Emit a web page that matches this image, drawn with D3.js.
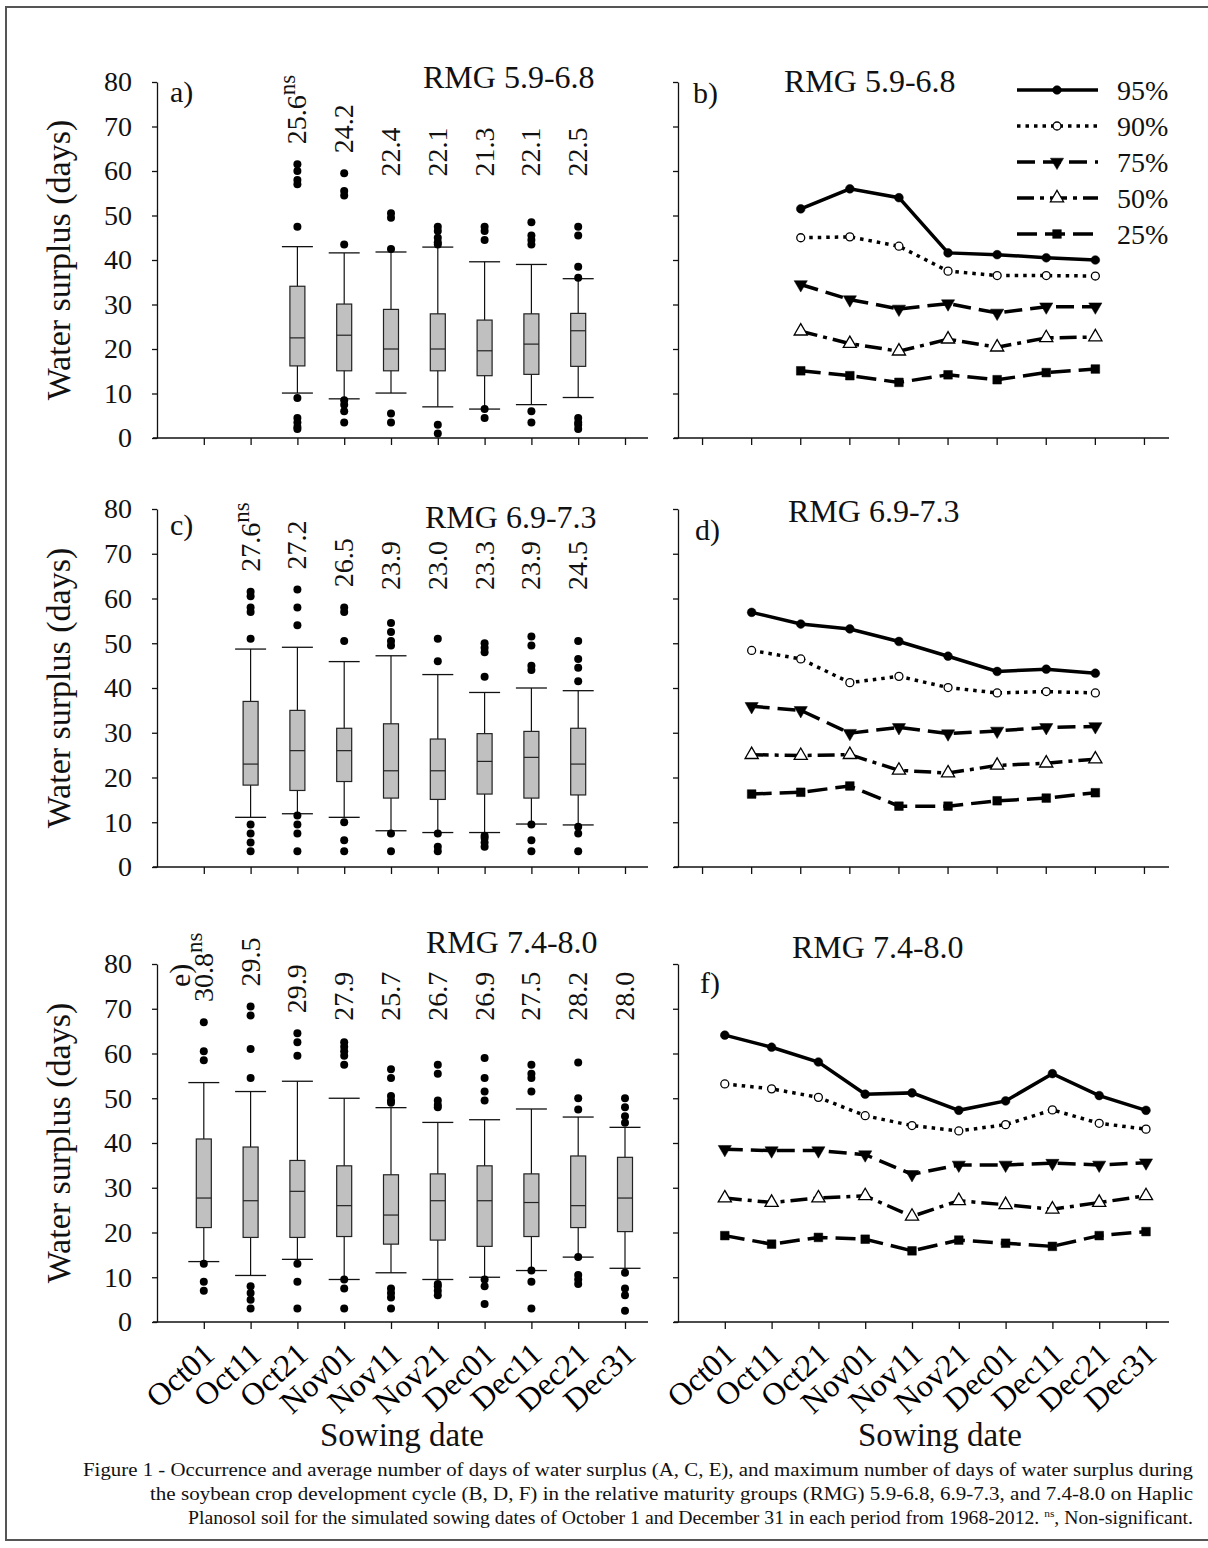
<!DOCTYPE html>
<html>
<head>
<meta charset="utf-8">
<script src="https://cdn.jsdelivr.net/npm/d3@7"></script>
<style>
body { margin: 0; background: #fff; }
svg { display: block; font-family: "Liberation Serif", "Times New Roman", serif; }
</style>
</head>
<body>
<script>
// sowing dates
const dates = ["Oct01","Oct11","Oct21","Nov01","Nov11","Nov21","Dec01","Dec11","Dec21","Dec31"];
const datesA = ["Oct21","Nov01","Nov11","Nov21","Dec01","Dec11","Dec21"];
const datesC = ["Oct11","Oct21","Nov01","Nov11","Nov21","Dec01","Dec11","Dec21"];
const datesE = dates;
const yTicks = [0,10,20,30,40,50,60,70,80];
const percentiles = ["95%","90%","75%","50%","25%"];

// box plots, RMG 5.9-6.8
const meanA = [25.6, 24.2, 22.4, 22.1, 21.3, 22.1, 22.5];
const hiA  = [43.0, 41.6, 41.8, 42.9, 39.6, 39.0, 35.8];
const q3A  = [34.1, 30.1, 28.9, 27.9, 26.5, 27.9, 28.0];
const medA = [22.5, 23.1, 20.0, 20.0, 19.6, 21.1, 24.1];
const q1A  = [16.2, 15.1, 15.1, 15.1, 14.0, 14.3, 16.1];
const loA  = [10.1, 8.8, 10.1, 7.0, 6.5, 7.5, 9.1];
const outA = [
  [61.5, 60, 58, 57, 47.5, 9, 4.5, 3.5, 2.5, 2],
  [59.5, 55.5, 54.5, 43.5, 8.5, 7.5, 6, 3.5],
  [50.5, 49.5, 42.5, 5.5, 3.5],
  [47.5, 46.5, 45, 44, 43.5, 3, 1],
  [47.5, 46.5, 44.5, 6.5, 4.5],
  [48.5, 45.5, 44.5, 43.5, 6, 3.5],
  [47.5, 45.5, 38.5, 36, 4.5, 3.5, 3, 2]
];

// box plots, RMG 6.9-7.3
const meanC = [27.6, 27.2, 26.5, 23.9, 23.0, 23.3, 23.9, 24.5];
const hiC  = [48.7, 49.1, 45.9, 47.2, 43.0, 39.0, 40.0, 39.4];
const q3C  = [37.0, 35.0, 31.0, 32.0, 28.6, 29.8, 30.3, 31.0];
const medC = [23.0, 26.0, 26.0, 21.5, 21.5, 23.6, 24.5, 23.0];
const q1C  = [18.3, 17.1, 19.1, 15.4, 15.1, 16.3, 15.4, 16.1];
const loC  = [11.1, 11.9, 11.1, 8.1, 7.7, 7.7, 9.6, 9.4];
const outC = [
  [61.5, 60.5, 58, 57, 51, 9.5, 7.5, 5.5, 3.5],
  [62, 58, 54, 11.5, 9.5, 7.5, 3.5],
  [58, 57, 50.5, 10, 6, 3.5],
  [54.5, 52.5, 50.5, 49.5, 7.5, 3.5],
  [51, 46, 7.5, 4.5, 3.5],
  [50, 49, 48, 42.5, 7, 6.5, 5.5, 4.5],
  [51.5, 49.5, 45, 44, 9.5, 6, 3.5],
  [50.5, 46.5, 44.5, 41.5, 9, 7.5, 3.5]
];

// box plots, RMG 7.4-8.0
const meanE = [30.8, 29.5, 29.9, 27.9, 25.7, 26.7, 26.9, 27.5, 28.2, 28.0];
const hiE  = [53.5, 51.5, 53.8, 50.0, 47.9, 44.6, 45.2, 47.6, 45.8, 43.5];
const q3E  = [40.9, 39.1, 36.1, 34.9, 32.9, 33.1, 34.9, 33.1, 37.1, 36.8];
const medE = [27.7, 27.1, 29.2, 26.0, 23.9, 27.1, 27.1, 26.7, 26.0, 27.7];
const q1E  = [21.1, 18.9, 18.9, 19.1, 17.4, 18.3, 16.9, 19.1, 21.1, 20.2];
const loE  = [13.5, 10.4, 14.0, 9.5, 11.0, 9.5, 10.0, 11.5, 14.5, 12.0];
const outE = [
  [67, 60.5, 58.5, 13, 9, 7],
  [70.5, 68.5, 61, 54.5, 8, 6.5, 5, 3],
  [64.5, 62.5, 59.5, 13, 9, 3],
  [62.5, 61.5, 60.5, 59.5, 57.5, 9.5, 7.5, 3],
  [56.5, 54.5, 50.5, 49.5, 49, 7.5, 6.5, 5.5, 3],
  [57.5, 55.5, 49.5, 48.5, 48, 8.5, 8, 7, 6],
  [59, 54.5, 51.5, 49.5, 9.5, 8, 4],
  [57.5, 55.5, 54.5, 51.5, 11.5, 9, 3],
  [58, 50, 47.5, 14.5, 10.5, 9.5, 8.5],
  [50, 48, 46, 44.5, 11, 7.5, 6, 2.5]
];

// maximum days of water surplus, by probability
const p95B = [51.5, 56.0, 54.0, 41.6, 41.2, 40.5, 40.0];
const p90B = [45.0, 45.2, 43.1, 37.5, 36.5, 36.5, 36.4];
const p75B = [34.5, 31.1, 29.0, 30.2, 28.1, 29.5, 29.5];
const p50B = [24.0, 21.2, 19.5, 22.2, 20.4, 22.5, 22.7];
const p25B = [15.1, 14.0, 12.5, 14.2, 13.1, 14.7, 15.5];

const p95D = [56.9, 54.3, 53.2, 50.4, 47.1, 43.7, 44.2, 43.3];
const p90D = [48.4, 46.5, 41.2, 42.6, 40.1, 38.9, 39.2, 38.9];
const p75D = [35.9, 35.0, 29.9, 31.2, 29.8, 30.4, 31.2, 31.4];
const p50D = [25.1, 24.9, 25.1, 21.6, 21.0, 22.7, 23.2, 24.1];
const p25D = [16.3, 16.7, 18.1, 13.6, 13.6, 14.8, 15.4, 16.6];

const p95F = [64.1, 61.4, 58.1, 50.9, 51.2, 47.3, 49.4, 55.5, 50.6, 47.3];
const p90F = [53.2, 52.1, 50.2, 46.1, 43.9, 42.7, 44.1, 47.4, 44.4, 43.1];
const p75F = [38.6, 38.3, 38.3, 37.4, 33.0, 35.1, 35.1, 35.5, 35.1, 35.6];
const p50F = [27.7, 26.7, 27.7, 28.2, 23.6, 27.1, 26.2, 25.2, 26.7, 28.2];
const p25F = [19.3, 17.4, 18.9, 18.5, 15.9, 18.3, 17.6, 16.9, 19.3, 20.2];

const W = 1208, H = 1548;
const svg = d3.select("body").append("svg").attr("width", W).attr("height", H);

// frame
svg.append("rect").attr("x", 6).attr("y", 7).attr("width", 1220).attr("height", 1533)
  .attr("fill", "none").attr("stroke", "#555").attr("stroke-width", 2);

const plotW = 491, step = 46.8;
const rows = [{top: 82, bottom: 438}, {top: 509, bottom: 867}, {top: 964, bottom: 1322}];
const leftX = 157, rightX = 678;

function yAxis(g, x0, y, withLabels) {
  const ax = g.append("g").attr("transform", `translate(${x0},0)`)
    .call(d3.axisLeft(y).tickValues(yTicks).tickSize(5).tickSizeOuter(0).tickPadding(20)
      .tickFormat(withLabels ? d3.format("d") : ""));
  ax.attr("font-family", null).attr("font-size", 28);
  ax.selectAll("path,line").attr("stroke", "#111").attr("stroke-width", 1.3);
  ax.selectAll("text").attr("fill", "#111");
}

function xAxisLabels(ax) {
  ax.selectAll(".tick text")
    .attr("y", 0).attr("dy", 0)
    .attr("font-size", 32)
    .attr("text-anchor", "end")
    .attr("transform", "translate(12,35) rotate(-42)");
}

function yTitle(row) {
  svg.append("text")
    .attr("transform", `translate(70,${(row.top + row.bottom) / 2}) rotate(-90)`)
    .attr("text-anchor", "middle").attr("font-size", 34).attr("fill", "#111")
    .text("Water surplus (days)");
}

function boxPanel(cfg) {
  const row = rows[cfg.row];
  const g = svg.append("g");
  const x = d3.scalePoint().domain(dates).range([leftX + step, leftX + 10 * step]);
  const y = d3.scaleLinear().domain([0, 80]).range([row.bottom, row.top]);

  yAxis(g, leftX, y, true);
  const ax = g.append("g").attr("transform", `translate(0,${row.bottom})`)
    .call(d3.axisBottom(x).tickSize(7).tickSizeOuter(0).tickFormat(cfg.xLabels ? d => d : ""));
  ax.attr("font-family", null);
  ax.select(".domain").remove();
  ax.selectAll("line").attr("stroke", "#111").attr("stroke-width", 1.3);
  if (cfg.xLabels) xAxisLabels(ax);
  g.append("line").attr("x1", leftX - 4).attr("x2", leftX + plotW)
    .attr("y1", row.bottom).attr("y2", row.bottom)
    .attr("stroke", "#111").attr("stroke-width", 1.3);

  const bw = 15, cw = 31;
  const maxOut = cfg.out.map(o => d3.max(o));
  const floor = d3.mean(maxOut) + 7;

  cfg.dates.forEach((d, i) => {
    const cx = x(d);
    const b = g.append("g");
    b.append("line").attr("x1", cx).attr("x2", cx).attr("y1", y(cfg.lo[i])).attr("y2", y(cfg.hi[i]))
      .attr("stroke", "#111").attr("stroke-width", 1.2);
    [cfg.lo[i], cfg.hi[i]].forEach(v => {
      b.append("line").attr("x1", cx - cw / 2).attr("x2", cx + cw / 2).attr("y1", y(v)).attr("y2", y(v))
        .attr("stroke", "#111").attr("stroke-width", 1.3);
    });
    b.append("rect").attr("x", cx - bw / 2).attr("width", bw)
      .attr("y", y(cfg.q3[i])).attr("height", y(cfg.q1[i]) - y(cfg.q3[i]))
      .attr("fill", "#c0c0c0").attr("stroke", "#222").attr("stroke-width", 1.2);
    b.append("line").attr("x1", cx - bw / 2).attr("x2", cx + bw / 2)
      .attr("y1", y(cfg.med[i])).attr("y2", y(cfg.med[i]))
      .attr("stroke", "#222").attr("stroke-width", 1.2);
    b.selectAll("circle").data(cfg.out[i]).join("circle")
      .attr("cx", cx).attr("cy", v => y(v)).attr("r", 4).attr("fill", "#000");

    const lv = Math.max(maxOut[i] + 4.5, floor);
    const t = g.append("text")
      .attr("transform", `translate(${cx + 9},${y(lv)}) rotate(-90)`)
      .attr("font-size", 28).attr("fill", "#111");
    t.append("tspan").text(cfg.mean[i].toFixed(1));
    if (i === 0) t.append("tspan").attr("font-size", 23).attr("dy", -11).text(cfg.signif);
  });

  g.append("text").attr("x", cfg.titleX).attr("y", cfg.titleY)
    .attr("font-size", 32).attr("fill", "#111").text(cfg.title);
  if (cfg.letterRot) {
    g.append("text").attr("transform", `translate(${cfg.letterX},${cfg.letterY}) rotate(-90)`)
      .attr("font-size", 30).attr("fill", "#111").text(cfg.letter);
  } else {
    g.append("text").attr("x", cfg.letterX).attr("y", cfg.letterY)
      .attr("font-size", 30).attr("fill", "#111").text(cfg.letter);
  }
  yTitle(row);
  if (cfg.xLabels) {
    g.append("text").attr("x", 402).attr("y", 1446).attr("text-anchor", "middle")
      .attr("font-size", 33).attr("fill", "#111").text("Sowing date");
  }
}

const lineStyles = [
  {dash: null, symbol: d3.symbolCircle, size: 60, fill: "#000", rot: 0},
  {dash: "3.5,5", symbol: d3.symbolCircle, size: 50, fill: "#fff", rot: 0},
  {dash: "18,8", symbol: d3.symbolTriangle, size: 75, fill: "#000", rot: 180},
  {dash: "17,6,4,6", symbol: d3.symbolTriangle, size: 75, fill: "#fff", rot: 0},
  {dash: "20,8", symbol: d3.symbolSquare, size: 75, fill: "#000", rot: 0}
];

function drawMarker(g, st, px, py) {
  g.append("path")
    .attr("d", d3.symbol(st.symbol, st.size)())
    .attr("transform", `translate(${px},${py}) rotate(${st.rot})`)
    .attr("fill", st.fill).attr("stroke", "#000").attr("stroke-width", st.fill === "#fff" ? 1.3 : 0.5);
}

function linePanel(cfg) {
  const row = rows[cfg.row];
  const g = svg.append("g");
  const y = d3.scaleLinear().domain([0, 80]).range([row.bottom, row.top]);
  let x;
  if (cfg.xLabels) {
    x = d3.scalePoint().domain(dates).range([rightX + step, rightX + 10 * step]);
  } else {
    x = d3.scaleBand().domain(dates).range([rightX, rightX + plotW]);
  }
  const cxOf = d => cfg.xLabels ? x(d) : x(d) + x.bandwidth() / 2;

  yAxis(g, rightX, y, false);
  const ax = g.append("g").attr("transform", `translate(0,${row.bottom})`)
    .call(d3.axisBottom(x).tickSize(7).tickSizeOuter(0).tickFormat(cfg.xLabels ? d => d : ""));
  ax.attr("font-family", null);
  ax.select(".domain").remove();
  ax.selectAll("line").attr("stroke", "#111").attr("stroke-width", 1.3);
  if (cfg.xLabels) xAxisLabels(ax);
  g.append("line").attr("x1", rightX - 4).attr("x2", rightX + plotW)
    .attr("y1", row.bottom).attr("y2", row.bottom)
    .attr("stroke", "#111").attr("stroke-width", 1.3);

  cfg.series.forEach((vals, k) => {
    const st = lineStyles[k];
    const pts = vals.map((v, i) => [cxOf(cfg.dates[i]), y(v)]);
    g.append("path").attr("d", d3.line()(pts))
      .attr("fill", "none").attr("stroke", "#000").attr("stroke-width", 3.5)
      .attr("stroke-dasharray", st.dash);
    pts.forEach(p => drawMarker(g, st, p[0], p[1]));
  });

  g.append("text").attr("x", cfg.titleX).attr("y", cfg.titleY)
    .attr("font-size", 32).attr("fill", "#111").text(cfg.title);
  g.append("text").attr("x", cfg.letterX).attr("y", cfg.letterY)
    .attr("font-size", 30).attr("fill", "#111").text(cfg.letter);

  if (cfg.legend) {
    percentiles.forEach((p, k) => {
      const st = lineStyles[k];
      const ly = 90 + k * 36;
      g.append("line").attr("x1", 1017).attr("x2", 1098).attr("y1", ly).attr("y2", ly)
        .attr("stroke", "#000").attr("stroke-width", 3.5).attr("stroke-dasharray", st.dash);
      drawMarker(g, st, 1057, ly);
      g.append("text").attr("x", 1117).attr("y", ly + 10)
        .attr("font-size", 28).attr("fill", "#111").text(p);
    });
  }
  if (cfg.xLabels) {
    g.append("text").attr("x", 940).attr("y", 1446).attr("text-anchor", "middle")
      .attr("font-size", 33).attr("fill", "#111").text("Sowing date");
  }
}

boxPanel({row: 0, dates: datesA, mean: meanA, hi: hiA, q3: q3A, med: medA, q1: q1A, lo: loA, out: outA,
  signif: "ns", title: "RMG 5.9-6.8", titleX: 423, titleY: 88, letter: "a)", letterX: 170, letterY: 102});
boxPanel({row: 1, dates: datesC, mean: meanC, hi: hiC, q3: q3C, med: medC, q1: q1C, lo: loC, out: outC,
  signif: "ns", title: "RMG 6.9-7.3", titleX: 425, titleY: 528, letter: "c)", letterX: 170, letterY: 535});
boxPanel({row: 2, dates: datesE, mean: meanE, hi: hiE, q3: q3E, med: medE, q1: q1E, lo: loE, out: outE,
  signif: "ns", title: "RMG 7.4-8.0", titleX: 426, titleY: 953, letter: "e)", letterX: 190, letterY: 987,
  letterRot: true, xLabels: true});

linePanel({row: 0, dates: datesA, series: [p95B, p90B, p75B, p50B, p25B],
  title: "RMG 5.9-6.8", titleX: 784, titleY: 92, letter: "b)", letterX: 693, letterY: 103, legend: true});
linePanel({row: 1, dates: datesC, series: [p95D, p90D, p75D, p50D, p25D],
  title: "RMG 6.9-7.3", titleX: 788, titleY: 522, letter: "d)", letterX: 695, letterY: 540});
linePanel({row: 2, dates: datesE, series: [p95F, p90F, p75F, p50F, p25F],
  title: "RMG 7.4-8.0", titleX: 792, titleY: 958, letter: "f)", letterX: 700, letterY: 993, xLabels: true});

// caption
const cap = svg.append("g").attr("font-size", 19).attr("fill", "#111");
cap.append("text").attr("x", 83).attr("y", 1476).attr("textLength", 1110).attr("lengthAdjust", "spacingAndGlyphs")
  .text("Figure 1 - Occurrence and average number of days of water surplus (A, C, E), and maximum number of days of water surplus during");
cap.append("text").attr("x", 150).attr("y", 1500).attr("textLength", 1043).attr("lengthAdjust", "spacingAndGlyphs")
  .text("the soybean crop development cycle (B, D, F) in the relative maturity groups (RMG) 5.9-6.8, 6.9-7.3, and 7.4-8.0 on Haplic");
const l3 = cap.append("text").attr("x", 188).attr("y", 1524).attr("textLength", 1005).attr("lengthAdjust", "spacingAndGlyphs");
l3.append("tspan").text("Planosol soil for the simulated sowing dates of October 1 and December 31 in each period from 1968-2012. ");
l3.append("tspan").attr("font-size", 11).attr("dy", -7).text("ns");
l3.append("tspan").attr("dy", 7).text(", Non-significant.");
</script>
</body>
</html>
